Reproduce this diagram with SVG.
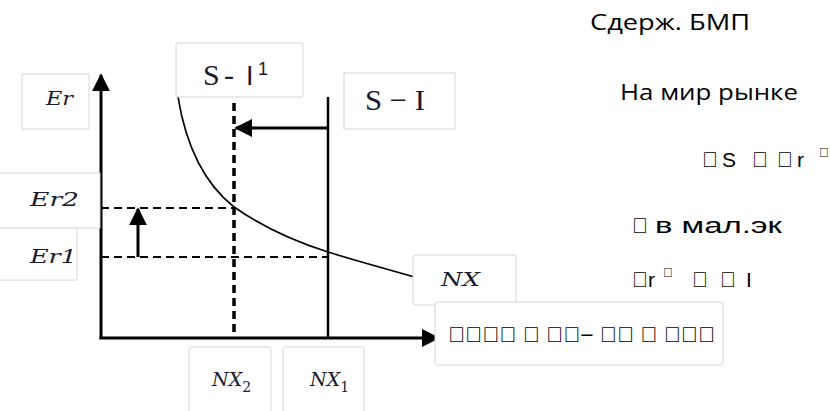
<svg xmlns="http://www.w3.org/2000/svg" width="830" height="411" viewBox="0 0 830 411">
<defs>
<style>
.box{fill:#fff;stroke:#d6d6d6;stroke-width:1}
.math{font-family:"DejaVu Serif","Liberation Serif",serif;font-size:19px;fill:#1a1a2e;font-style:italic}
.rm{font-family:"Liberation Serif","DejaVu Serif",serif;font-size:30px;fill:#1a1a2e}
.ru{font-family:"Open Sans","Noto Sans","Liberation Sans",sans-serif;font-size:21px;fill:#000}
.sy{font-family:"Liberation Sans",Arial,sans-serif;font-size:21px;fill:#000}
.ax{stroke:#000;stroke-width:3;fill:none}
.dash{stroke:#000;stroke-width:2;stroke-dasharray:8 5;fill:none}
.vdash{stroke:#000;stroke-width:3.5;stroke-dasharray:8 5;fill:none}
</style>
<marker id="ah" viewBox="0 0 10 10" refX="9" refY="5" markerWidth="6" markerHeight="6" markerUnits="strokeWidth" orient="auto"><path d="M0,0 L10,5 L0,10 z" fill="#000"/></marker>
</defs>
<rect width="830" height="411" fill="#fff"/>
<g id="connectors">
<line class="ax" x1="101" y1="339" x2="101" y2="75" marker-end="url(#ah)"/>
<line class="ax" x1="99.5" y1="338" x2="438" y2="338" marker-end="url(#ah)"/>
<line class="dash" x1="101" y1="208" x2="234" y2="208"/>
<line class="dash" x1="101" y1="257" x2="328" y2="257"/>
<line class="vdash" x1="234" y1="103" x2="234" y2="337"/>
<line x1="328" y1="97" x2="328" y2="337" stroke="#000" stroke-width="2.5"/>
<line class="ax" x1="328" y1="128" x2="236" y2="128" marker-end="url(#ah)"/>
<line class="ax" x1="138" y1="257" x2="138" y2="209" marker-end="url(#ah)"/>
<path d="M178,97 C185,140 200,180 234,207 C260,225 290,240 328,252 C360,262 390,270 415,277" fill="none" stroke="#000" stroke-width="1.6"/>
</g>
<g id="node-er">
<rect class="box" x="22" y="74" width="67" height="55"/>
<text class="math" x="46" y="105" textLength="27" lengthAdjust="spacingAndGlyphs">Er</text>
</g>
<g id="node-er2">
<rect class="box" x="-2" y="173" width="102" height="55"/>
<text class="math" x="30" y="206" textLength="49" lengthAdjust="spacingAndGlyphs">Er2</text>
</g>
<g id="node-er1">
<rect class="box" x="-2" y="228" width="79" height="52"/>
<text class="math" x="30" y="263" textLength="47" lengthAdjust="spacingAndGlyphs">Er1</text>
</g>
<g id="node-si1">
<rect class="box" x="176" y="43" width="127" height="54" rx="2"/>
<text class="rm" x="203" y="85">S<tspan x="224">-</tspan><tspan x="246" font-family="Liberation Sans,sans-serif" font-size="27">I</tspan><tspan x="258" y="75" font-family="Liberation Sans,sans-serif" font-size="18">1</tspan></text>
</g>
<g id="node-si">
<rect class="box" x="344" y="73" width="111" height="56"/>
<text class="rm" x="365" y="110" textLength="60" lengthAdjust="spacingAndGlyphs">S − I</text>
</g>
<g id="node-nx">
<rect class="box" x="413" y="255" width="103" height="50" rx="3"/>
<text class="math" x="441" y="286" textLength="39" lengthAdjust="spacingAndGlyphs">NX</text>
</g>
<g id="node-bottom">
<rect class="box" x="435" y="302" width="288" height="63" rx="3"/>
<text class="sy" x="448" y="342" font-size="27" textLength="267" lengthAdjust="spacingAndGlyphs">&#xF0AD;&#xF0AD;&#xF0AD;&#xF0AD; &#xF0AD;  &#xF0AD;&#xF0AD;− &#xF0AD;&#xF0AD; &#xF0AD; &#xF0AD;&#xF0AD;&#xF0AD;</text>
</g>
<g id="node-nx2">
<rect class="box" x="189" y="347" width="82" height="70" rx="3"/>
<text class="math" x="212" y="386">NX<tspan font-size="14" dy="6" font-style="normal">2</tspan></text>
</g>
<g id="node-nx1">
<rect class="box" x="283" y="347" width="81" height="70" rx="3"/>
<text class="math" x="310" y="386">NX<tspan font-size="14" dy="6" font-style="normal">1</tspan></text>
</g>
<g id="texts">
<text class="ru" x="590" y="30" textLength="160" lengthAdjust="spacingAndGlyphs">Сдерж. БМП</text>
<text class="ru" x="620" y="100" textLength="178" lengthAdjust="spacingAndGlyphs">На мир рынке</text>
<text class="sy" y="167"><tspan x="702">&#xF0AD;</tspan><tspan x="722">S</tspan><tspan x="752">&#xF0AD;</tspan><tspan x="777">&#xF0AD;</tspan><tspan x="797">r</tspan><tspan x="819" y="157" font-size="13">&#xF0AD;</tspan></text>
<text class="sy" y="233"><tspan x="632">&#xF0AD;</tspan><tspan x="655" font-size="22" textLength="127" lengthAdjust="spacingAndGlyphs">в мал.эк</tspan></text>
<text class="sy" y="287"><tspan x="632">&#xF0AD;</tspan><tspan x="648">r</tspan><tspan x="663" y="277" font-size="13">&#xF0AD;</tspan><tspan x="692" y="287">&#xF0AD;</tspan><tspan x="720">&#xF0AD;</tspan><tspan x="746">I</tspan></text>
</g>
</svg>
